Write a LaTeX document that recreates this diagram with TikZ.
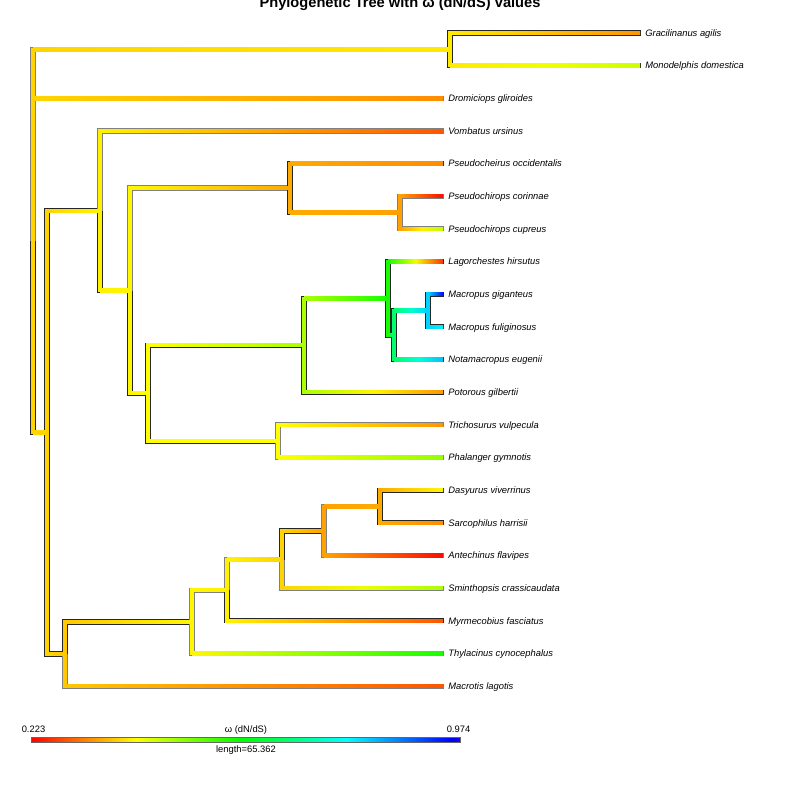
\documentclass[tikz,border=0pt]{standalone}
\usepackage{fontspec}
\setmainfont{Liberation Sans}
\usetikzlibrary{calc}

\colorlet{edgedark}{black!85}
\colorlet{edgelight}{black!50}

\tikzset{
  tiplabel/.style={anchor=base west,xshift=3.5pt,yshift=-2.8pt,inner sep=0pt,font=\fontsize{8}{9}\selectfont\itshape},
  legendtext/.style={anchor=base,inner sep=0pt,font=\fontsize{8}{9}\selectfont},
}

% parent/child/hue at parent/hue at child/outline
\newcommand{\branchlist}{%
  root/nA/50/55/edgelight, root/tDrom/50/33/edgelight, root/n47/50/50/edgedark,
  nA/tGrac/55/35/edgedark, nA/tMono/55/72/edgedark,
  n47/n100/50/57/edgedark, n47/n65/50/47/edgedark,
  n100/tVomb/57/20/edgelight, n100/n130/57/58/edgedark,
  n130/n290/58/40/edgelight, n130/n148/58/60/edgedark,
  n290/tPocc/40/33/edgedark, n290/n400/40/38/edgedark,
  n400/tPcor/38/3/edgelight, n400/tPcup/38/75/edgelight,
  n148/n304/60/80/edgedark, n148/n278/60/60/edgedark,
  n304/n388/80/115/edgedark, n304/tPgil/80/35/edgedark,
  n388/tLhir/115/12/edgedark, n388/n394/115/145/edgedark,
  n394/n428/145/190/edgedark, n394/tNeug/145/195/edgedark,
  n428/tMgig/190/238/edgedark, n428/tMful/190/183/edgedark,
  n278/tTvul/60/35/edgelight, n278/tPgym/60/85/edgelight,
  n65/n192/47/58/edgedark, n65/tMlag/47/20/edgelight,
  n192/n227/58/57/edgelight, n192/tTcyn/58/115/edgelight,
  n227/n282/57/50/edgelight, n227/tMfas/57/20/edgedark,
  n282/n324/50/38/edgedark, n282/tScra/50/80/edgelight,
  n324/n380/38/40/edgelight, n324/tAfla/38/3/edgelight,
  n380/tDviv/40/58/edgedark, n380/tShar/40/33/edgedark}

\begin{document}
\begin{tikzpicture}[x=0.3mm,y=-0.3mm]
  \useasboundingbox (0,0) rectangle (800,800);

  \node[anchor=base,inner sep=0pt,font=\bfseries\fontsize{12.5}{14}\selectfont] (title) at (400,7)
    {Phylogenetic Tree with ω (dN/dS) values};

  % tips
  \coordinate (tGrac) at (641,33);
  \coordinate (tMono) at (641,65.6);
  \coordinate (tDrom) at (444,98.3);
  \coordinate (tVomb) at (444,131);
  \coordinate (tPocc) at (444,163.5);
  \coordinate (tPcor) at (444,196.2);
  \coordinate (tPcup) at (444,228.8);
  \coordinate (tLhir) at (444,261.5);
  \coordinate (tMgig) at (444,294.2);
  \coordinate (tMful) at (444,326.8);
  \coordinate (tNeug) at (444,359.5);
  \coordinate (tPgil) at (444,392.2);
  \coordinate (tTvul) at (444,424.8);
  \coordinate (tPgym) at (444,457.5);
  \coordinate (tDviv) at (444,490.2);
  \coordinate (tShar) at (444,522.8);
  \coordinate (tAfla) at (444,555.5);
  \coordinate (tScra) at (444,588.2);
  \coordinate (tMfas) at (444,620.8);
  \coordinate (tTcyn) at (444,653.5);
  \coordinate (tMlag) at (444,686.2);

  % internal nodes
  \coordinate (nA) at (450,49.3);
  \coordinate (n400) at (400,212.5);
  \coordinate (n290) at (290,188);
  \coordinate (n428) at (428,310.5);
  \coordinate (n394) at (394,335);
  \coordinate (n388) at (388,298.3);
  \coordinate (n304) at (304,345.2);
  \coordinate (n278) at (278,441.2);
  \coordinate (n148) at (148,393.2);
  \coordinate (n130) at (130,290.6);
  \coordinate (n100) at (100,210.8);
  \coordinate (n380) at (380,506.5);
  \coordinate (n324) at (324,531);
  \coordinate (n282) at (282,559.6);
  \coordinate (n227) at (227,590.2);
  \coordinate (n192) at (192,621.9);
  \coordinate (n65) at (65,654);
  \coordinate (n47) at (47,432.4);
  \coordinate (root) at (33,241);

  % outlines first, then coloured branches
  \foreach \p/\c/\ha/\hb/\oc in \branchlist {
    \draw[line width=4.5pt,\oc] (\p) |- (\c);
  }
  \foreach \p/\c/\ha/\hb/\oc in \branchlist {
    \pgfmathsetmacro\hm{(\ha+\hb)/2}
    \definecolor{ca}{Hsb}{\ha,1,1}
    \definecolor{cb}{Hsb}{\hb,1,1}
    \definecolor{cm}{Hsb}{\hm,1,1}
    \path (\p) |- (\c) coordinate[pos=0.5] (k);
    \draw[line width=3pt,line cap=rect,ca] (\p) -- (k);
    \shade[left color=ca,right color=cb,middle color=cm] ($(k)+(0,-1.76)$) rectangle ($(\c)+(-0.9,1.76)$);
  }

  % tip labels
  \node[tiplabel] (lGrac) at (tGrac) {Gracilinanus agilis};
  \node[tiplabel] (lMono) at (tMono) {Monodelphis domestica};
  \node[tiplabel] (lDrom) at (tDrom) {Dromiciops gliroides};
  \node[tiplabel] (lVomb) at (tVomb) {Vombatus ursinus};
  \node[tiplabel] (lPocc) at (tPocc) {Pseudocheirus occidentalis};
  \node[tiplabel] (lPcor) at (tPcor) {Pseudochirops corinnae};
  \node[tiplabel] (lPcup) at (tPcup) {Pseudochirops cupreus};
  \node[tiplabel] (lLhir) at (tLhir) {Lagorchestes hirsutus};
  \node[tiplabel] (lMgig) at (tMgig) {Macropus giganteus};
  \node[tiplabel] (lMful) at (tMful) {Macropus fuliginosus};
  \node[tiplabel] (lNeug) at (tNeug) {Notamacropus eugenii};
  \node[tiplabel] (lPgil) at (tPgil) {Potorous gilbertii};
  \node[tiplabel] (lTvul) at (tTvul) {Trichosurus vulpecula};
  \node[tiplabel] (lPgym) at (tPgym) {Phalanger gymnotis};
  \node[tiplabel] (lDviv) at (tDviv) {Dasyurus viverrinus};
  \node[tiplabel] (lShar) at (tShar) {Sarcophilus harrisii};
  \node[tiplabel] (lAfla) at (tAfla) {Antechinus flavipes};
  \node[tiplabel] (lScra) at (tScra) {Sminthopsis crassicaudata};
  \node[tiplabel] (lMfas) at (tMfas) {Myrmecobius fasciatus};
  \node[tiplabel] (lTcyn) at (tTcyn) {Thylacinus cynocephalus};
  \node[tiplabel] (lMlag) at (tMlag) {Macrotis lagotis};

  % colour bar
  \coordinate (barL) at (31,737.7);
  \coordinate (barR) at (460.5,742.3);
  \foreach \xa/\xb/\ha/\hb in {31/136.1/0/60,136.1/241.1/60/120,241.1/346.2/120/180,346.2/451.2/180/240,451.2/460.5/240/245} {
    \definecolor{ca}{Hsb}{\ha,1,1}
    \definecolor{cb}{Hsb}{\hb,1,1}
    \shade[left color=ca,right color=cb] (\xa,737.7) rectangle (\xb,742.3);
  }
  \draw[black!60,line width=0.4pt] (barL) rectangle (barR);
  \node[legendtext] (lmin) at (33.5,732.5) {0.223};
  \node[legendtext] (lmax) at (458.5,732.5) {0.974};
  \node[legendtext] (lname) at (246,732.5) {ω (dN/dS)};
  \node[legendtext] (llen) at (246,752) {length=65.362};
\end{tikzpicture}
\end{document}
